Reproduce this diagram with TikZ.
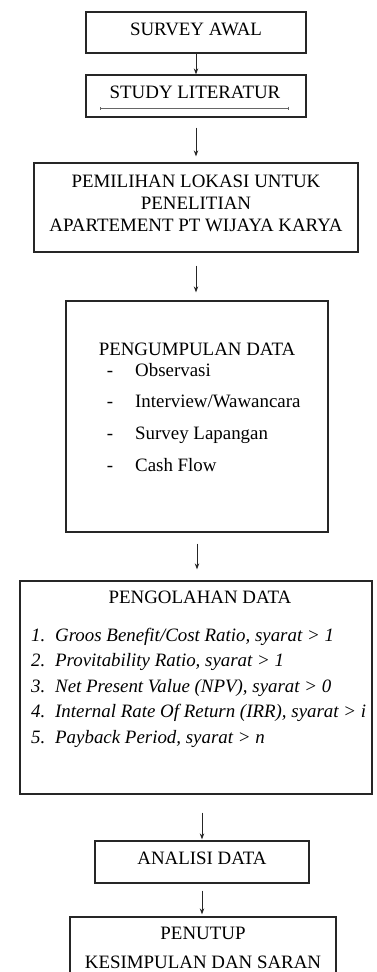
\documentclass[tikz,border=0pt]{standalone}
\usepackage{fontspec}
\setmainfont{Liberation Serif}
\usetikzlibrary{arrows.meta}
\begin{document}
\begin{tikzpicture}[x=1pt,y=-1pt,
  every node/.style={font=\fontsize{18.9}{22}\selectfont, inner sep=0pt},
  box/.style={draw=black!85, line width=1.3pt, rectangle, inner sep=0pt},
  arr/.style={-{Stealth[length=6pt,width=4.5pt]}, line width=0.9pt, black!85},
  txt/.style={anchor=base},
  itm/.style={anchor=base west},
  num/.style={anchor=base west, font=\fontsize{18.9}{22}\selectfont\itshape}]
\useasboundingbox (0,0) rectangle (376,972);
\clip (0,0) rectangle (376,972);

% step boxes
\node[box, minimum width=220pt, minimum height=41pt] (b1) at (196,32.5) {};
\node[box, minimum width=220pt, minimum height=42pt] (b2) at (196,96) {};
\node[box, minimum width=324pt, minimum height=89pt] (b3) at (196,207.5) {};
\node[box, minimum width=262pt, minimum height=231pt] (b4) at (197,416.5) {};
\node[box, minimum width=352pt, minimum height=213pt] (b5) at (196,687.5) {};
\node[box, minimum width=214pt, minimum height=42pt] (b6) at (202,862) {};
\node[box, minimum width=266pt, minimum height=76pt] (b7) at (203,955) {};

% box texts
\node[txt] (t1) at (196,35) {SURVEY AWAL};
\node[txt] (t2) at (195,98) {STUDY LITERATUR};
\draw[black!60, line width=0.5pt, {Bar[width=3pt]}-{Bar[width=3pt]}] (100,108) -- (288,108);
\node[txt] (t3a) at (196,187) {PEMILIHAN LOKASI UNTUK};
\node[txt] (t3b) at (196,209) {PENELITIAN};
\node[txt] (t3c) at (196,231) {APARTEMENT PT WIJAYA KARYA};

\node[txt] (t4) at (197,355) {PENGUMPULAN DATA};
\node[txt] (d1) at (110,376) {-};
\node[txt] (d2) at (110,407.5) {-};
\node[txt] (d3) at (110,439) {-};
\node[txt] (d4) at (110,471) {-};
\node[itm] (i1) at (135,376) {Observasi};
\node[itm] (i2) at (135,407.5) {Interview/Wawancara};
\node[itm] (i3) at (135,439) {Survey Lapangan};
\node[itm] (i4) at (135,471) {Cash Flow};

\node[txt] (t5) at (200,603) {PENGOLAHAN DATA};
\node[num] (n1) at (31,641) {1.};
\node[num] (n2) at (31,666.5) {2.};
\node[num] (n3) at (31,692) {3.};
\node[num] (n4) at (31,717.5) {4.};
\node[num] (n5) at (31,743) {5.};
\node[num] (k1) at (55,641) {Groos Benefit/Cost Ratio, syarat > 1};
\node[num] (k2) at (55,666.5) {Provitability Ratio, syarat > 1};
\node[num] (k3) at (55,692) {Net Present Value (NPV), syarat > 0};
\node[num] (k4) at (55,717.5) {Internal Rate Of Return (IRR), syarat > i};
\node[num] (k5) at (55,743) {Payback Period, syarat > n};

\node[txt] (t6) at (202,864) {ANALISI DATA};
\node[txt] (t7a) at (203,939) {PENUTUP};
\node[txt] (t7b) at (203,968) {KESIMPULAN DAN SARAN};

% connectors
\draw[arr] (b1.south) -- (b1.south |- b2.north);
\draw[arr, shorten <=10pt, shorten >=6pt] (b2.south) -- (b2.south |- b3.north);
\draw[arr, shorten <=13pt, shorten >=8pt] (b3.south) -- (b3.south |- b4.north);
\draw[arr, shorten <=11pt, shorten >=11pt] (b4.south) -- (b4.south |- b5.north);
\draw[arr, shorten <=18pt, shorten >=1pt] (b6.north |- b5.south) -- (b6.north);
\draw[arr, shorten <=7pt, shorten >=2pt] (b6.south) -- (b6.south |- b7.north);
\end{tikzpicture}
\end{document}
